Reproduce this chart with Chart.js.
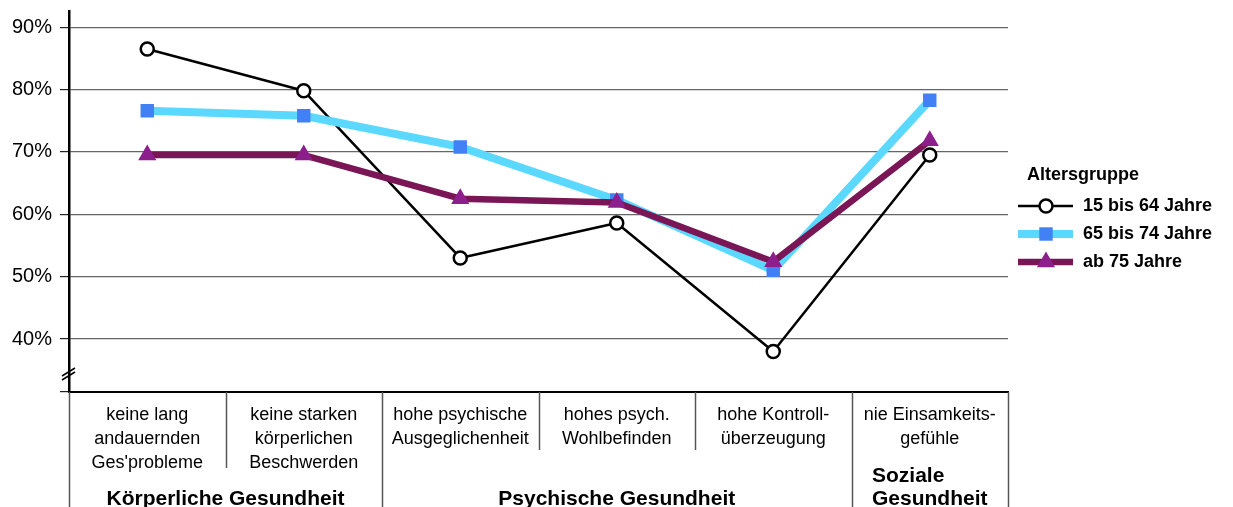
<!doctype html>
<html lang="de">
<head>
<meta charset="utf-8">
<title>Gesundheit nach Altersgruppe</title>
<script src="https://cdn.jsdelivr.net/npm/chart.js@4.4.0/dist/chart.umd.min.js"></script>
<style>
  html, body { margin: 0; padding: 0; background: #fff; }
</style>
</head>
<body>
<canvas id="myChart" width="1233" height="507"></canvas>
<script>
// categories (multi-line tick labels)
var categories = [
  ['keine lang', 'andauernden', "Ges'probleme"],
  ['keine starken', 'körperlichen', 'Beschwerden'],
  ['hohe psychische', 'Ausgeglichenheit'],
  ['hohes psych.', 'Wohlbefinden'],
  ['hohe Kontroll-', 'überzeugung'],
  ['nie Einsamkeits-', 'gefühle']
];
// groups of categories
var groupLabels = [['Körperliche Gesundheit'], ['Psychische Gesundheit'], ['Soziale', 'Gesundheit']];
var groupFirst = [0, 2, 5];
var groupLast = [1, 4, 5];

var legendTitle = 'Altersgruppe';
var seriesNames = ['15 bis 64 Jahre', '65 bis 74 Jahre', 'ab 75 Jahre'];

// values in %
var jahre15bis64 = [86.5, 79.8, 53.0, 58.6, 38.0, 69.5];
var jahre65bis74 = [76.6, 75.8, 70.8, 62.3, 51.0, 78.3];
var ab75Jahre    = [69.5, 69.5, 62.5, 61.9, 52.4, 71.8];

var yTicks = [40, 50, 60, 70, 80, 90];

var FONT = '"Liberation Sans", Arial, Helvetica, sans-serif';
Chart.defaults.font.family = FONT;
Chart.defaults.color = '#000';

function drawMarker(ctx, style, r, x, y, fill, stroke, bw) {
  ctx.save();
  ctx.beginPath();
  if (style === 'circle') {
    ctx.arc(x, y, r, 0, Math.PI * 2);
  } else if (style === 'rect') {
    var s = Math.SQRT1_2 * r;
    ctx.rect(x - s, y - s, 2 * s, 2 * s);
  } else {
    var w = r * Math.sin(Math.PI / 3);
    ctx.moveTo(x, y - r);
    ctx.lineTo(x + w, y + r / 2);
    ctx.lineTo(x - w, y + r / 2);
    ctx.closePath();
  }
  ctx.fillStyle = fill;
  ctx.fill();
  if (bw) {
    ctx.lineWidth = bw;
    ctx.strokeStyle = stroke;
    ctx.stroke();
  }
  ctx.restore();
}

var extras = {
  id: 'extras',
  afterDraw: function (chart) {
    var ctx = chart.ctx;
    var xs = chart.scales.x;
    var area = chart.chartArea;
    var H = chart.height;
    var n = categories.length;
    var px = function (i) { return xs.getPixelForValue(i); };
    var half = (px(1) - px(0)) / 2;

    // separators below the x axis
    ctx.save();
    ctx.strokeStyle = '#555';
    ctx.lineWidth = 1.5;
    for (var b = 0; b <= n; b++) {
      var x = b === 0 ? area.left : (b === n ? area.right : (px(b - 1) + px(b)) / 2);
      var bottom = H;
      var isGroupEdge = b === 0 || b === n || groupFirst.indexOf(b) >= 0;
      if (!isGroupEdge) {
        var lines = Math.max(categories[b - 1].length, categories[b].length);
        bottom = area.bottom + (lines > 2 ? 76 : 58);
      }
      ctx.beginPath();
      ctx.moveTo(Math.round(x) + 0.5, area.bottom);
      ctx.lineTo(Math.round(x) + 0.5, bottom);
      ctx.stroke();
    }
    ctx.restore();

    // group labels
    ctx.save();
    ctx.font = 'bold 21px ' + FONT;
    ctx.fillStyle = '#000';
    ctx.textBaseline = 'middle';
    for (var g = 0; g < groupLabels.length; g++) {
      var cx = (px(groupFirst[g]) - half + px(groupLast[g]) + half) / 2;
      var lab = groupLabels[g];
      var mw = 0;
      lab.forEach(function (t) { mw = Math.max(mw, ctx.measureText(t).width); });
      ctx.textAlign = 'left';
      for (var k = 0; k < lab.length; k++) {
        var yy = H - 8 - (lab.length - 1 - k) * 23;
        ctx.fillText(lab[k], cx - mw / 2, yy);
      }
    }
    ctx.restore();

    // axis break mark
    ctx.save();
    ctx.strokeStyle = '#000';
    ctx.lineWidth = 1.5;
    ctx.beginPath();
    ctx.moveTo(area.left - 7, 376); ctx.lineTo(area.left + 6, 368);
    ctx.moveTo(area.left - 7, 380); ctx.lineTo(area.left + 6, 372);
    ctx.stroke();
    ctx.restore();

    // legend
    ctx.save();
    ctx.font = 'bold 18px ' + FONT;
    ctx.fillStyle = '#000';
    ctx.textBaseline = 'middle';
    ctx.textAlign = 'left';
    var lx = area.right + 10;
    ctx.fillText(legendTitle, lx + 9, 175);
    chart.data.datasets.forEach(function (ds, i) {
      var y = 206 + i * 28;
      ctx.beginPath();
      ctx.strokeStyle = ds.borderColor;
      ctx.lineWidth = ds.borderWidth;
      ctx.moveTo(lx, y);
      ctx.lineTo(lx + 55, y);
      ctx.stroke();
      drawMarker(ctx, ds.pointStyle, ds.pointRadius, lx + 28, y,
        ds.pointBackgroundColor, ds.pointBorderColor, ds.pointBorderWidth);
      ctx.fillStyle = '#000';
      ctx.fillText(seriesNames[i], lx + 65, y);
    });
    ctx.restore();
  }
};

new Chart(document.getElementById('myChart').getContext('2d'), {
  type: 'line',
  data: {
    labels: categories,
    datasets: [
      {
        label: seriesNames[0],
        data: jahre15bis64,
        order: 3,
        borderColor: '#000',
        borderWidth: 2.5,
        pointStyle: 'circle',
        pointRadius: 6.5,
        pointBackgroundColor: '#fff',
        pointBorderColor: '#000',
        pointBorderWidth: 2.5
      },
      {
        label: seriesNames[1],
        data: jahre65bis74,
        order: 2,
        borderColor: '#5AD8FF',
        borderWidth: 8,
        pointStyle: 'rect',
        pointRadius: 9.5,
        pointBackgroundColor: '#4281F5',
        pointBorderColor: '#4281F5',
        pointBorderWidth: 0
      },
      {
        label: seriesNames[2],
        data: ab75Jahre,
        order: 1,
        borderColor: '#7A1556',
        borderWidth: 6.5,
        pointStyle: 'triangle',
        pointRadius: 10.5,
        pointBackgroundColor: '#8D1F8D',
        pointBorderColor: '#8D1F8D',
        pointBorderWidth: 0
      }
    ]
  },
  options: {
    responsive: false,
    animation: false,
    devicePixelRatio: 1,
    layout: { padding: { left: 0, right: 225, top: 11, bottom: 0 } },
    elements: { line: { tension: 0, borderJoinStyle: 'round' } },
    plugins: { legend: { display: false }, tooltip: { enabled: false } },
    scales: {
      x: {
        type: 'category',
        offset: true,
        grid: { display: false, drawTicks: false },
        border: { display: true, color: '#000', width: 2 },
        ticks: {
          autoSkip: false,
          maxRotation: 0,
          padding: 11,
          color: '#000',
          font: { size: 18, lineHeight: 1.333 }
        },
        afterFit: function (s) { s.height = 115; s.paddingLeft = 0; s.paddingRight = 0; }
      },
      y: {
        min: 31.5,
        max: 92.6,
        grid: { color: '#666', lineWidth: 1.2, tickLength: 9, tickColor: '#222' },
        border: { display: true, color: '#000', width: 2.5 },
        ticks: {
          padding: 8,
          color: '#000',
          font: { size: 20 },
          callback: function (v) { return yTicks.indexOf(v) >= 0 ? v + '%' : ''; }
        },
        afterBuildTicks: function (s) {
          s.ticks = [{ value: s.min }].concat(yTicks.map(function (v) { return { value: v }; }));
        },
        afterFit: function (s) { s.width = 69; s.paddingTop = 0; s.paddingBottom = 0; }
      }
    }
  },
  plugins: [extras]
});
</script>
</body>
</html>
